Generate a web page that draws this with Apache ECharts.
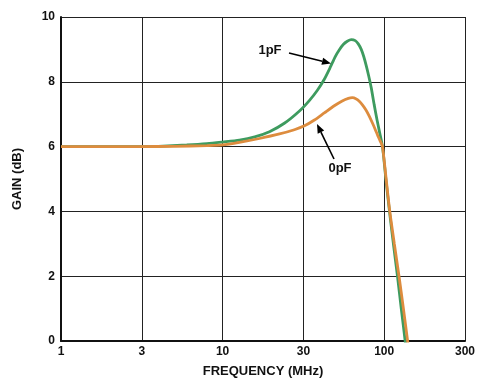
<!DOCTYPE html>
<html>
<head>
<meta charset="utf-8">
<script src="https://cdn.jsdelivr.net/npm/echarts@6/dist/echarts.min.js"></script>
<style>
html,body{margin:0;padding:0;background:#fff;}
#chart{width:493px;height:388px;}
</style>
</head>
<body>
<div id="chart"></div>
<script>
// Frequency (MHz) and gain (dB)
const freq1pF = [1, 2, 3, 4, 6, 8, 10, 12.7, 15.8, 19.5, 24.1, 29.9, 34.4, 38.6, 42.6, 46.4, 49.8, 52.8, 55.8, 59.1, 62.6, 66.2, 69.1, 72.1, 74.7, 77.4, 80.2, 83.1, 86.8, 90.5, 93.1, 97.6, 102.4, 107.8, 114, 120.8, 127.5, 134.8, 139];
const gain1pF = [6.0, 6.0, 6.0, 6.01, 6.05, 6.09, 6.14, 6.2, 6.3, 6.46, 6.72, 7.1, 7.42, 7.74, 8.08, 8.45, 8.78, 8.99, 9.15, 9.25, 9.3, 9.27, 9.17, 9.0, 8.78, 8.5, 8.18, 7.82, 7.28, 6.8, 6.5, 6.0, 5.0, 4.0, 3.0, 2.0, 1.0, 0.0, -0.7];
const freq0pF = [1, 2, 3, 5, 8, 10, 12.7, 16.9, 22.5, 27.8, 32.1, 37.0, 42.6, 49.1, 55.0, 60.0, 63.5, 67.2, 70.1, 73.5, 77.1, 80.8, 84.7, 88.0, 90.9, 94.5, 97.6, 102.8, 108.3, 115.5, 123.5, 131.5, 139.6, 145];
const gain0pF = [6.0, 6.0, 6.0, 6.01, 6.03, 6.05, 6.13, 6.25, 6.39, 6.52, 6.64, 6.82, 7.04, 7.26, 7.41, 7.49, 7.51, 7.47, 7.4, 7.28, 7.13, 6.94, 6.72, 6.53, 6.36, 6.17, 6.0, 5.0, 4.0, 3.0, 2.0, 1.0, 0.0, -0.6];
const xTickLabels = ['1', '3', '10', '30', '100', '300'];
const yTicks = [0, 2, 4, 6, 8, 10];
const seriesNames = ['1pF', '0pF'];

const GREEN = '#3e9b5f';
const ORANGE = '#dd8c3e';
const FONT = 'Liberation Sans, Arial, sans-serif';

const chart = echarts.init(document.getElementById('chart'));
const base = Math.sqrt(10);

function pairs(xs, ys) { return xs.map((x, i) => [x, ys[i]]); }

function arrow(x1, y1, x2, y2) {
  const len = 9, hw = 3.6;
  const dx = x2 - x1, dy = y2 - y1, d = Math.hypot(dx, dy);
  const ux = dx / d, uy = dy / d;
  const bx = x2 - ux * len, by = y2 - uy * len;
  return [
    { type: 'line', shape: { x1: x1, y1: y1, x2: bx, y2: by }, style: { stroke: '#000', lineWidth: 1.6 }, z: 100 },
    { type: 'polygon', shape: { points: [[x2, y2], [bx - uy * hw, by + ux * hw], [bx + uy * hw, by - ux * hw]] }, style: { fill: '#000' }, z: 100 }
  ];
}

chart.setOption({
  animation: false,
  backgroundColor: '#fff',
  grid: { left: 61, right: 28, top: 17, bottom: 47 },
  xAxis: {
    type: 'log',
    logBase: base,
    min: 1,
    max: Math.pow(base, 5),
    interval: 1,
    name: 'FREQUENCY (MHz)',
    nameLocation: 'middle',
    nameGap: 24,
    nameTextStyle: { fontFamily: FONT, fontWeight: 'bold', fontSize: 13, color: '#111' },
    axisLine: { show: true, onZero: false, lineStyle: { color: '#111', width: 2 } },
    axisTick: { show: false },
    minorTick: { show: false },
    splitLine: { show: true, lineStyle: { color: '#222', width: 1 } },
    axisLabel: {
      margin: 5,
      fontFamily: FONT, fontWeight: 'bold', fontSize: 12, color: '#111',
      formatter: function (v) {
        const idx = Math.round(Math.log(v) / Math.log(base));
        return xTickLabels[idx] !== undefined ? xTickLabels[idx] : '';
      }
    }
  },
  yAxis: {
    type: 'value',
    min: yTicks[0],
    max: yTicks[yTicks.length - 1],
    interval: 2,
    name: 'GAIN (dB)',
    nameLocation: 'middle',
    nameGap: 37,
    nameTextStyle: { fontFamily: FONT, fontWeight: 'bold', fontSize: 13, color: '#111' },
    axisLine: { show: true, lineStyle: { color: '#111', width: 2 } },
    axisTick: { show: false },
    splitLine: { show: true, lineStyle: { color: '#222', width: 1 } },
    axisLabel: { margin: 6, fontFamily: FONT, fontWeight: 'bold', fontSize: 12, color: '#111' }
  },
  series: [
    {
      name: seriesNames[0], type: 'line', data: pairs(freq1pF, gain1pF),
      smooth: 0.25, showSymbol: false, symbol: 'none', clip: true,
      lineStyle: { color: GREEN, width: 2.8 }, z: 3
    },
    {
      name: seriesNames[1], type: 'line', data: pairs(freq0pF, gain0pF),
      smooth: 0.25, showSymbol: false, symbol: 'none', clip: true,
      lineStyle: { color: ORANGE, width: 2.8 }, z: 4
    }
  ],
  graphic: [
    { type: 'text', x: 270, y: 50.5, style: { text: seriesNames[0], font: 'bold 13px ' + FONT, fill: '#111', align: 'center', verticalAlign: 'middle' }, z: 100 },
    { type: 'text', x: 340, y: 168, style: { text: seriesNames[1], font: 'bold 13px ' + FONT, fill: '#111', align: 'center', verticalAlign: 'middle' }, z: 100 }
  ].concat(arrow(289, 53, 331, 63.5), arrow(334, 159, 317, 124))
});
</script>
</body>
</html>
